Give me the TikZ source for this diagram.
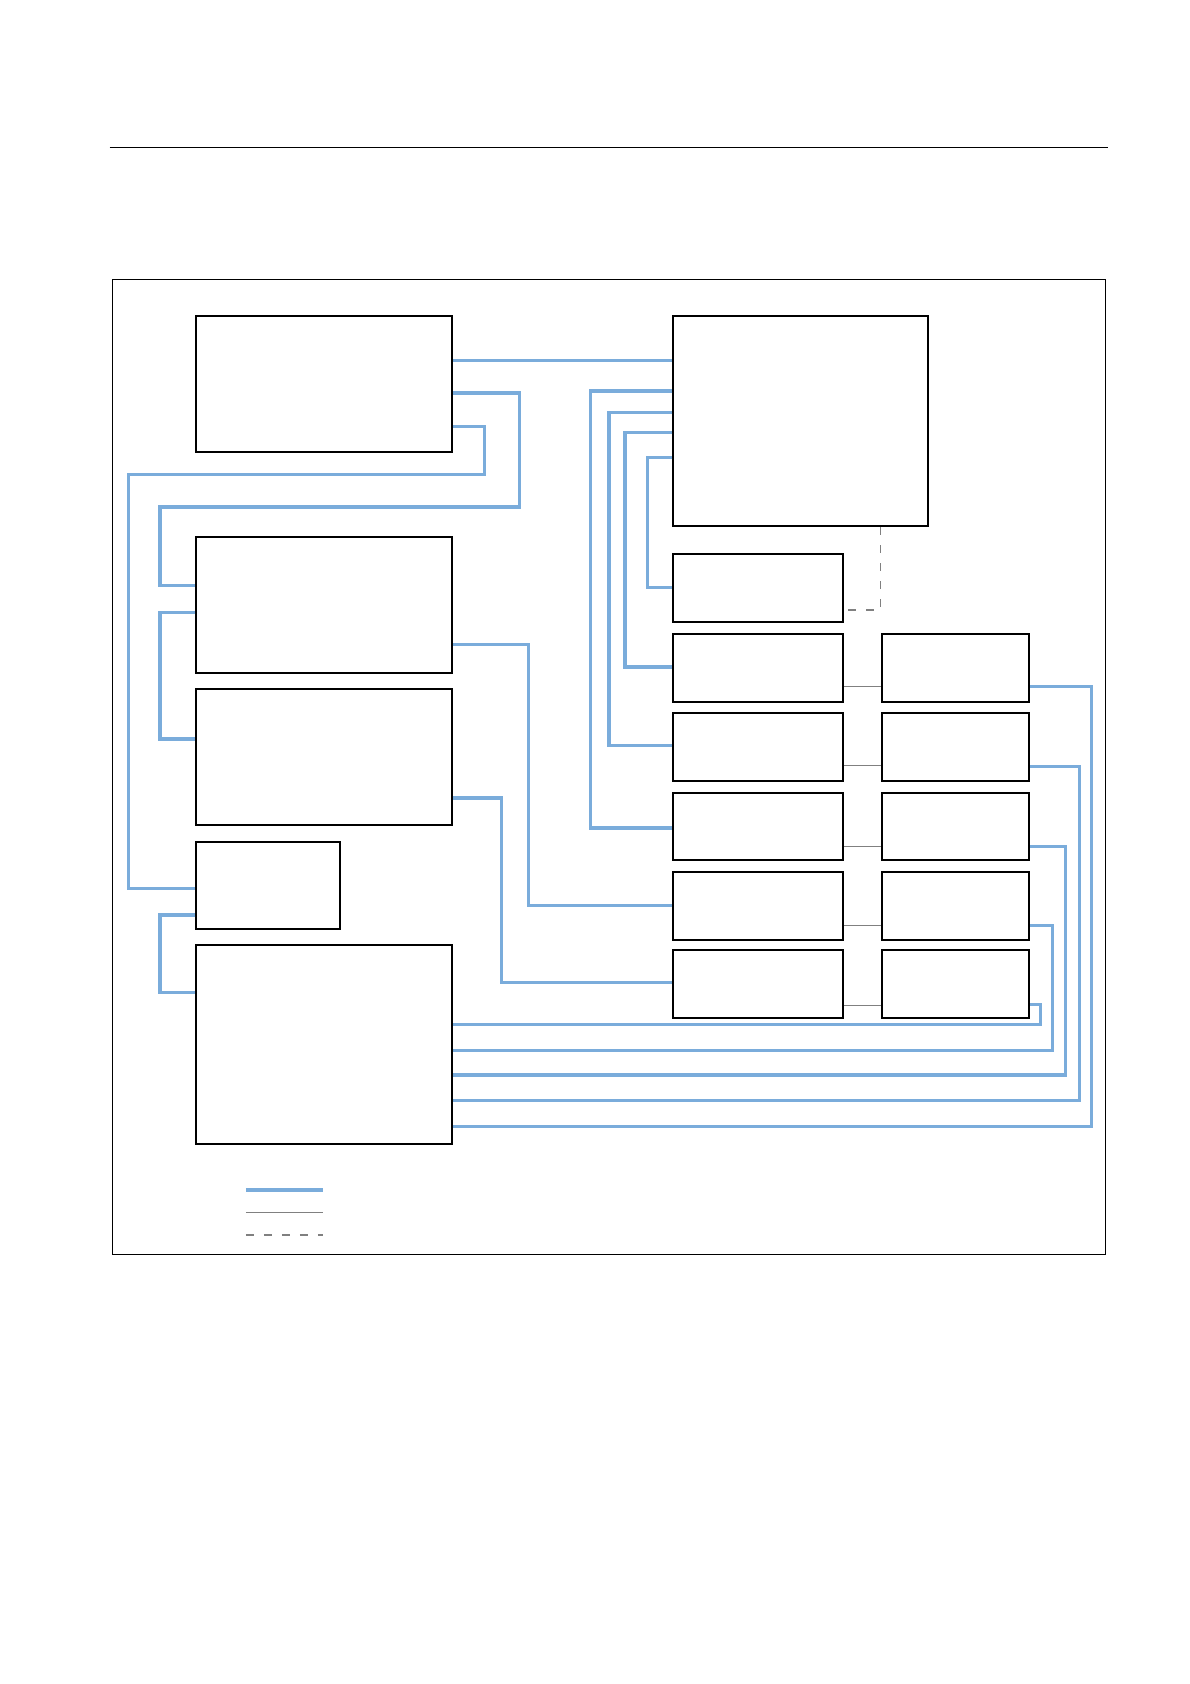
\documentclass[tikz,border=0pt]{standalone}
\definecolor{bus}{RGB}{122,172,219}
\definecolor{link}{RGB}{128,128,128}
\tikzset{every picture/.style={line width=0.75pt}}
\tikzset{blk/.style={draw,line width=1pt,inner sep=0pt,anchor=north west},
  busline/.style={bus,line width=1.6pt},
  linkline/.style={link,line width=0.6pt},
  optline/.style={link,line width=0.6pt,dash pattern={on 4pt off 5pt}}}
\newcommand\mkblk[5]{\node[blk,minimum width={(#4)*0.537pt},minimum height={(#5)*0.537pt}] (#1) at (#2,#3) {};}
\begin{document}
\begin{tikzpicture}[x=0.537pt,y=0.537pt,yscale=-1,xscale=1]
	\useasboundingbox (0,0) rectangle (1108,1568);
	%Top rule and frame
	\draw [line width=0.5pt] (102,137) -- (1032,137) ;
	\draw [line width=0.5pt] (105,260) rectangle (1029,1168) ;
	
	%Blocks
	\mkblk{hostA}{182}{293}{238}{127}
	\mkblk{ctrl}{626}{293}{237}{196}
	\mkblk{hostC}{182}{499}{238}{127}
	\mkblk{hostD}{182}{641}{238}{126}
	\mkblk{aux}{182}{783}{134}{81}
	\mkblk{main}{182}{879}{238}{185}
	\mkblk{port0}{626}{515}{158}{63}
	\mkblk{port1}{626}{589}{158}{64}
	\mkblk{port2}{626}{663}{158}{63}
	\mkblk{port3}{626}{737}{158}{63}
	\mkblk{port4}{626}{811}{158}{63}
	\mkblk{port5}{626}{884}{158}{63}
	\mkblk{dev1}{820}{589}{137}{64}
	\mkblk{dev2}{820}{663}{137}{63}
	\mkblk{dev3}{820}{737}{137}{63}
	\mkblk{dev4}{820}{811}{137}{63}
	\mkblk{dev5}{820}{884}{137}{63}
	
	%Bus lines, left side
	\draw [busline] (hostA.east |- 0,336) -- (ctrl.west |- 0,336) ;
	\draw [busline] (hostA.east |- 0,366) -| (484,472) -| (149,545) -- (hostC.west |- 0,545) ;
	\draw [busline] (hostA.east |- 0,397) -| (451,442) -| (120,827) -- (aux.west |- 0,827) ;
	\draw [busline] (hostC.west |- 0,570) -| (149,688) -- (hostD.west |- 0,688) ;
	\draw [busline] (aux.west |- 0,852) -| (149,924) -- (main.west |- 0,924) ;
	
	%Bus lines, controller to ports
	\draw [busline] (ctrl.west |- 0,364) -| (550,771) -- (port3.west |- 0,771) ;
	\draw [busline] (ctrl.west |- 0,384) -| (567,694) -- (port2.west |- 0,694) ;
	\draw [busline] (ctrl.west |- 0,403) -| (582,621) -- (port1.west |- 0,621) ;
	\draw [busline] (ctrl.west |- 0,426) -| (603,547) -- (port0.west |- 0,547) ;
	\draw [busline] (hostC.east |- 0,600) -| (492,843) -- (port4.west |- 0,843) ;
	\draw [busline] (hostD.east |- 0,743) -| (467,915) -- (port5.west |- 0,915) ;
	
	%Bus lines, main block to devices
	\draw [busline] (main.east |- 0,954) -| (969,935) -- (dev5.east |- 0,935) ;
	\draw [busline] (main.east |- 0,978) -| (980,862) -- (dev4.east |- 0,862) ;
	\draw [busline] (main.east |- 0,1001) -| (992,788) -- (dev3.east |- 0,788) ;
	\draw [busline] (main.east |- 0,1025) -| (1005,714) -- (dev2.east |- 0,714) ;
	\draw [busline] (main.east |- 0,1049) -| (1016,639) -- (dev1.east |- 0,639) ;
	
	%Port to device links
	\foreach \i/\y in {1/639,2/713,3/788,4/862,5/936}
		\draw [linkline] (port\i.east |- 0,\y) -- (dev\i.west |- 0,\y) ;
	\draw [optline] (ctrl.south -| 820,0) |- (port0.east |- 0,568) ;
	
	%Legend
	\draw [busline] (229,1108) -- (301,1108) ;
	\draw [linkline] (229,1129) -- (301,1129) ;
	\draw [optline] (229,1150) -- (301,1150) ;
\end{tikzpicture}
\end{document}
